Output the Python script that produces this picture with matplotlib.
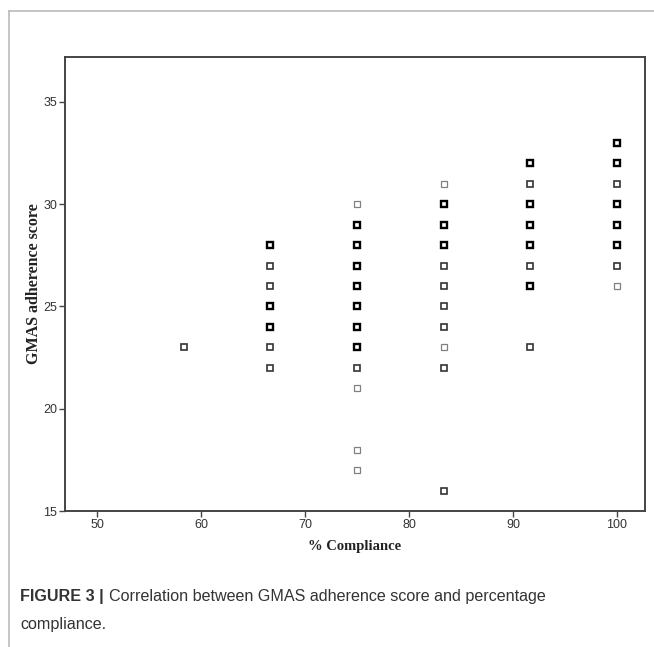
import numpy as np
import matplotlib
matplotlib.use("Agg")
import matplotlib.pyplot as plt
from matplotlib.lines import Line2D

# Data (x = % compliance, y = GMAS score)
# n = rough overlap weight (1 thin, 2 normal, 3 bold marker)
x_58, y_58, n_58 = 58.33, [23], [2]
x_67, y_67, n_67 = 66.67, [22, 23, 24, 25, 26, 27, 28], [2, 2, 3, 3, 2, 2, 3]
x_75, y_75, n_75 = 75.0, [17, 18, 21, 22, 23, 24, 25, 26, 27, 28, 29, 30], [1, 1, 1, 2, 3, 3, 3, 3, 3, 3, 3, 1]
x_83, y_83, n_83 = 83.33, [16, 22, 23, 24, 25, 26, 27, 28, 29, 30, 31], [2, 2, 1, 2, 2, 2, 2, 3, 3, 3, 1]
x_92, y_92, n_92 = 91.67, [23, 26, 27, 28, 29, 30, 31, 32], [2, 3, 2, 3, 3, 3, 2, 3]
x_100, y_100, n_100 = 100.0, [26, 27, 28, 29, 30, 31, 32, 33], [1, 2, 3, 3, 3, 2, 3, 3]

x_ticks = [50, 60, 70, 80, 90, 100]
y_ticks = [15, 20, 25, 30, 35]

columns = [(x_58, y_58, n_58), (x_67, y_67, n_67), (x_75, y_75, n_75),
           (x_83, y_83, n_83), (x_92, y_92, n_92), (x_100, y_100, n_100)]

# marker style per overlap weight
edge_col = {1: '#808080', 2: '#333333', 3: '#000000'}
edge_w = {1: 0.9, 2: 1.2, 3: 1.7}

W, H = 654, 647
fig = plt.figure(figsize=(W / 100, H / 100), dpi=100)
fig.patch.set_facecolor('white')

# page frame lines (top and left)
fig.add_artist(Line2D([9 / W, 1], [1 - 11 / H, 1 - 11 / H], color='#bbbbbb', lw=1.2))
fig.add_artist(Line2D([9 / W, 9 / W], [0, 1 - 11 / H], color='#bbbbbb', lw=1.2))

left, right, top, bottom = 65, 645, 57, 511
ax = fig.add_axes([left / W, 1 - bottom / H, (right - left) / W, (bottom - top) / H])

for xv, ys, ns in columns:
    for yv, nv in zip(ys, ns):
        ax.plot(xv, yv, marker='s', ms=4.8, mfc='white', mec=edge_col[nv],
                mew=edge_w[nv], ls='none')

ax.set_xlim(46.9, 102.7)
ax.set_ylim(15, 37.2)
ax.set_xticks(x_ticks)
ax.set_yticks(y_ticks)

for lab in ax.get_xticklabels() + ax.get_yticklabels():
    lab.set_family('Liberation Sans')
    lab.set_fontsize(9)
    lab.set_color('#333333')

ax.tick_params(direction='out', length=4, width=1.0, color='#444444', pad=1.5)
for sp in ax.spines.values():
    sp.set_color('#444444')
    sp.set_linewidth(1.4)

ax.set_xlabel('% Compliance', family='Liberation Serif', fontweight='bold',
              fontsize=10.5, color='#222222', labelpad=7)
ax.set_ylabel('GMAS adherence score', family='Liberation Serif', fontweight='bold',
              fontsize=11.5, color='#222222', labelpad=1)

# caption, sized so the first line ends near x=548 like the reference
cap_y1, cap_y2 = 597, 624
fs = 12
t1 = fig.text(20 / W, 1 - cap_y1 / H, 'FIGURE 3 |', family='Liberation Sans',
              fontweight='bold', fontsize=fs, color='#333333', va='center', ha='left')
fig.canvas.draw()
bb = t1.get_window_extent()
t2 = fig.text((bb.x1 + 5) / W, 1 - cap_y1 / H,
              'Correlation between GMAS adherence score and percentage',
              family='Liberation Sans', fontsize=fs, color='#333333', va='center', ha='left')
fig.canvas.draw()
scale = (548 - 20) / (t2.get_window_extent().x1 - 20)
fs = fs * scale
t1.set_fontsize(fs)
fig.canvas.draw()
bb = t1.get_window_extent()
t2.set_fontsize(fs)
t2.set_x((bb.x1 + 5) / W)
fig.text(20 / W, 1 - cap_y2 / H, 'compliance.', family='Liberation Sans', fontsize=fs,
         color='#333333', va='center', ha='left')

fig.savefig('out.png', dpi=100, facecolor='white')
